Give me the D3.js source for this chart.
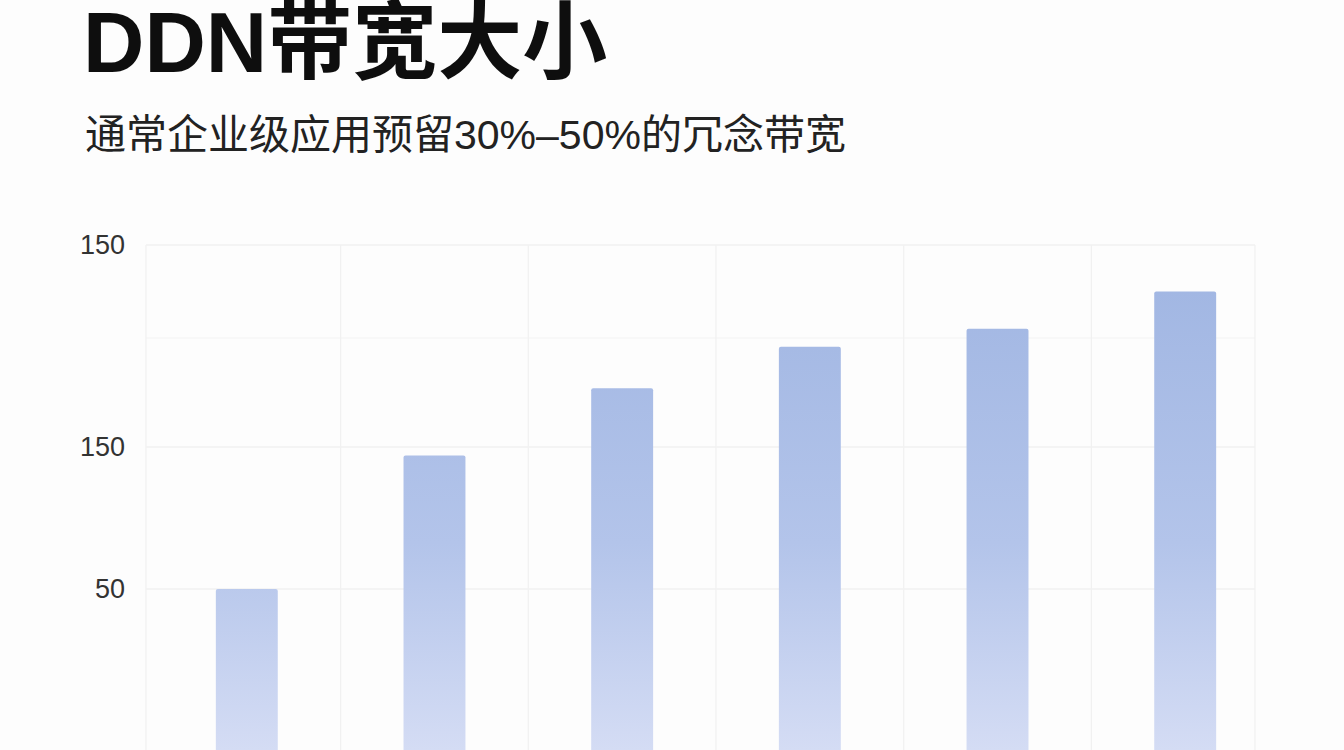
<!DOCTYPE html>
<html>
<head>
<meta charset="utf-8">
<script src="https://cdn.jsdelivr.net/npm/d3@7"></script>
<style>
  html, body { margin: 0; padding: 0; background: #fdfdfd; }
  svg { display: block; }
</style>
</head>
<body>
<script>
// chart text
var title = "DDN带宽大小";
var subtitle = "通常企业级应用预留30%–50%的冗念带宽";

// bars (x labels are cut off in the source, so keep generic names)
var categories = ["1", "2", "3", "4", "5", "6"];
var values = [50, 97, 127, 146, 155, 175];

// y ticks: underlying values and the labels printed next to them
var tickValues = [50, 100, 150, 200];
var tickLabels = ["50", "150", "", "150"];

var width = 1344, height = 750;
var plot = {left: 146, right: 1255, top: 245};

var svg = d3.select("body").append("svg")
    .attr("width", width)
    .attr("height", height);

// gradient for the bars, light at the bottom
var grad = svg.append("defs").append("linearGradient")
    .attr("id", "barGrad")
    .attr("gradientUnits", "userSpaceOnUse")
    .attr("x1", 0).attr("x2", 0)
    .attr("y1", 290).attr("y2", 750);
grad.append("stop").attr("offset", "0%").attr("stop-color", "#a2b7e3");
grad.append("stop").attr("offset", "55%").attr("stop-color", "#b3c4ea");
grad.append("stop").attr("offset", "100%").attr("stop-color", "#d4dcf4");

// the y axis of the picture is not evenly spaced, so use a polylinear scale
var y = d3.scaleLinear()
    .domain([0, 50, 100, 150, 200])
    .range([765, 589, 447, 338, 245]);

var x = d3.scaleBand()
    .domain(categories)
    .range([122, 1310])
    .paddingInner(0.67)
    .paddingOuter(0.5);

// horizontal grid
svg.append("g")
    .selectAll("line")
    .data(tickValues)
    .enter().append("line")
    .attr("x1", plot.left)
    .attr("x2", plot.right)
    .attr("y1", function(d) { return y(d); })
    .attr("y2", function(d) { return y(d); })
    .attr("stroke", function(d, i) { return tickLabels[i] === "" ? "#f3f3f3" : "#ececec"; })
    .attr("stroke-width", 1.2);

// vertical grid between the bars
var step = x.step();
var vLines = [plot.left].concat(categories.slice(1).map(function(c) {
    return x(c) - step * x.paddingInner() / 2;
})).concat([plot.right]);
svg.append("g")
    .selectAll("line")
    .data(vLines)
    .enter().append("line")
    .attr("x1", function(d) { return d; })
    .attr("x2", function(d) { return d; })
    .attr("y1", plot.top)
    .attr("y2", height)
    .attr("stroke", "#f1f1f1")
    .attr("stroke-width", 1.2);

// y axis labels, no domain line or ticks
var yAxis = svg.append("g")
    .attr("transform", "translate(" + (plot.left - 21) + ",0)")
    .call(d3.axisLeft(y)
        .tickValues(tickValues)
        .tickSize(0)
        .tickPadding(0)
        .tickFormat(function(d, i) { return tickLabels[i]; }));
yAxis.select(".domain").remove();
yAxis.selectAll("text")
    .attr("font-family", "'Liberation Sans', Arial, sans-serif")
    .attr("font-size", 27)
    .attr("fill", "#333");

// bars
svg.append("g")
    .selectAll("rect")
    .data(values)
    .enter().append("rect")
    .attr("x", function(d, i) { return x(categories[i]); })
    .attr("y", function(d) { return y(d); })
    .attr("width", x.bandwidth())
    .attr("height", function(d) { return y(0) - y(d); })
    .attr("rx", 2)
    .attr("fill", "url(#barGrad)");

// title and subtitle
svg.append("text")
    .attr("x", 83)
    .attr("y", 72)
    .attr("font-family", "'Liberation Sans', 'Noto Sans CJK SC', sans-serif")
    .attr("font-weight", "bold")
    .attr("font-size", 85)
    .attr("fill", "#0e0e0e")
    .text(title);

svg.append("text")
    .attr("x", 85)
    .attr("y", 149)
    .attr("font-family", "'Liberation Sans', 'Noto Sans CJK SC', sans-serif")
    .attr("font-size", 41)
    .attr("fill", "#222")
    .text(subtitle);
</script>
</body>
</html>
